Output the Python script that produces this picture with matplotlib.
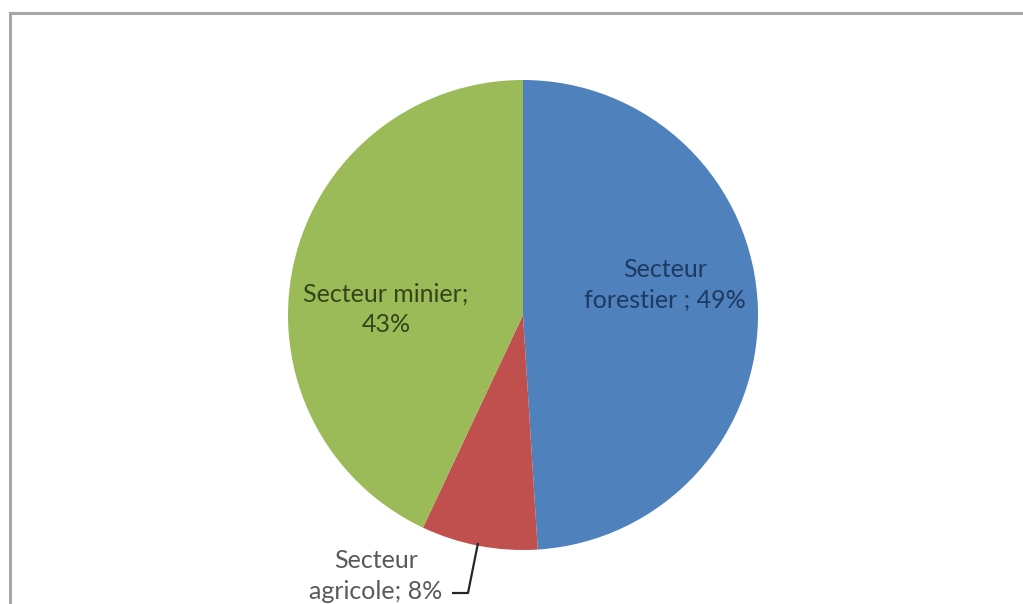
"""Pie chart: répartition par secteur."""

import matplotlib.pyplot as plt
from matplotlib.patches import Rectangle

sectors = ["Secteur forestier", "Secteur agricole", "Secteur minier"]
shares = [49, 8, 43]
colors = ["#4F81BD", "#C0504D", "#9BBB59"]

W, H = 1023, 604
plt.rcParams["font.family"] = ["Lato", "DejaVu Sans"]

fig = plt.figure(figsize=(W / 100, H / 100), dpi=100)
ax = fig.add_axes([0, 0, 1, 1])

# chart area frame (runs off the right and bottom edges)
ax.add_patch(Rectangle((10, -20), W + 20, H - 13 + 20, fill=False,
                       edgecolor="#A6A6A6", lw=2.2))

cx, cy, r = 523, H - 315, 235
ax.pie(shares, colors=colors, startangle=90, counterclock=False,
       center=(cx, cy), radius=r, frame=True,
       wedgeprops=dict(edgecolor="none", linewidth=0))
ax.set_xlim(0, W)
ax.set_ylim(0, H)
ax.set_aspect("equal")
ax.axis("off")

fs = 18
ax.text(665, H - 285, f"Secteur\nforestier ; {shares[0]}%", ha="center", va="center",
        fontsize=fs, color="#1F3A60", linespacing=1.4)
ax.text(386, H - 309, f"Secteur minier;\n{shares[2]}%", ha="center", va="center",
        fontsize=fs, color="#34451A", linespacing=1.4)
ax.text(376, H - 576, f"Secteur\nagricole; {shares[1]}%", ha="center", va="center",
        fontsize=fs, color="#595959", linespacing=1.4)

# leader line for the small slice
ax.plot([478, 468, 452], [H - 543, H - 593, H - 593], color="#262626", lw=1.6,
        solid_capstyle="butt")

fig.savefig("out.png", dpi=100)
